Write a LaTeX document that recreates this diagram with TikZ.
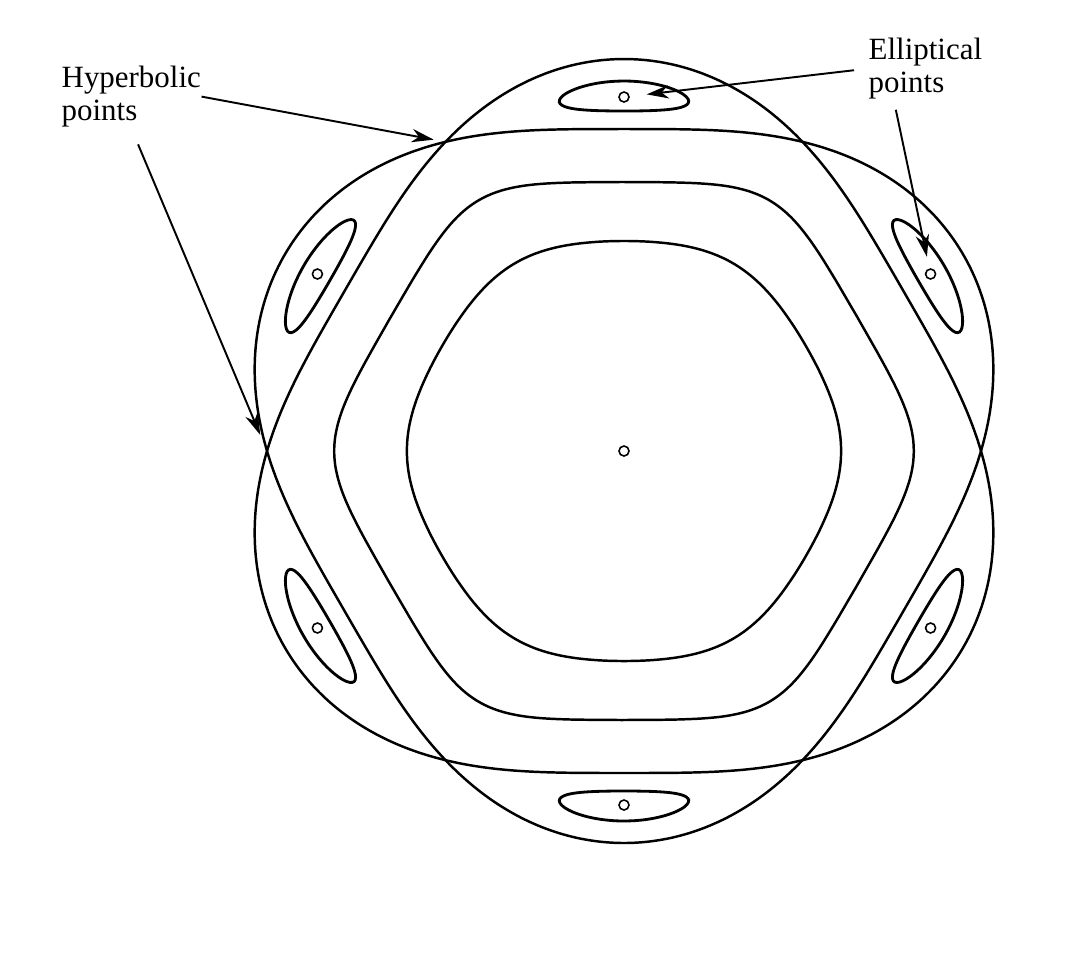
\documentclass[tikz,border=0pt]{standalone}
\usepackage{fontspec}
\setmainfont{Liberation Serif}
\usetikzlibrary{arrows.meta}

\begin{document}
\begin{tikzpicture}[>={Stealth[length=6.3pt,width=3.8pt]},
  orbit/.style={line width=0.7pt,smooth},
  tagtext/.style={align=left,inner sep=0pt,font=\fontsize{8.8}{9.6}\selectfont}]
\useasboundingbox (-6.24,-5.09) rectangle (4.56,4.51);
% separatrices and islands round the six elliptical points
\foreach \ang in {30,90,...,330}{
  \draw[orbit,domain=-30:30,samples=40,variable=\t] plot({\ang+\t}:{3.57+0.35*cos(3*\t)});
  \draw[orbit,domain=-30:30,samples=40,variable=\t] plot({\ang+\t}:{3.57-0.35*cos(3*\t)});
  \draw[orbit,line width=0.8pt,domain=0:360,samples=50,variable=\t] plot({\ang+10.5*cos(\t)}:{3.55+0.15*sin(\t)}) -- cycle;
  \coordinate (e\ang) at (\ang:3.54);
  \draw[line width=0.45pt] (e\ang) circle (0.05);
}
\foreach \ang in {0,60,...,300}
  \coordinate (h\ang) at (\ang:3.57);
% closed orbits round the centre
\draw[orbit,domain=0:360,samples=180,variable=\t] plot(\t:{2.6905/(abs(cos(\t-30))^10+abs(cos(\t-90))^10+abs(cos(\t-150))^10)^(0.1)}) -- cycle;
\draw[orbit,domain=0:360,samples=180,variable=\t] plot(\t:{2.111/(abs(cos(\t-30))^6+abs(cos(\t-90))^6+abs(cos(\t-150))^6)^(1/6)}) -- cycle;
\coordinate (o) at (0,0);
\draw[line width=0.45pt] (o) circle (0.05);
% labels
\node[tagtext,anchor=north west] (hyp) at (-5.63,3.86) {Hyperbolic\\points};
\node[tagtext,anchor=north west] (ell) at (2.44,4.14) {Elliptical\\points};
\draw[->,line width=0.55pt,shorten >=3.4pt] (hyp.east) -- (h120);
\draw[->,line width=0.55pt,shorten <=5pt,shorten >=5pt] (hyp.south) -- (h180);
\draw[->,line width=0.55pt,shorten <=4pt,shorten >=6.5pt] (ell.west) -- (e90);
\draw[->,line width=0.55pt,shorten <=2.8pt,shorten >=5pt] (ell.-135) -- (e30);
\end{tikzpicture}
\end{document}
